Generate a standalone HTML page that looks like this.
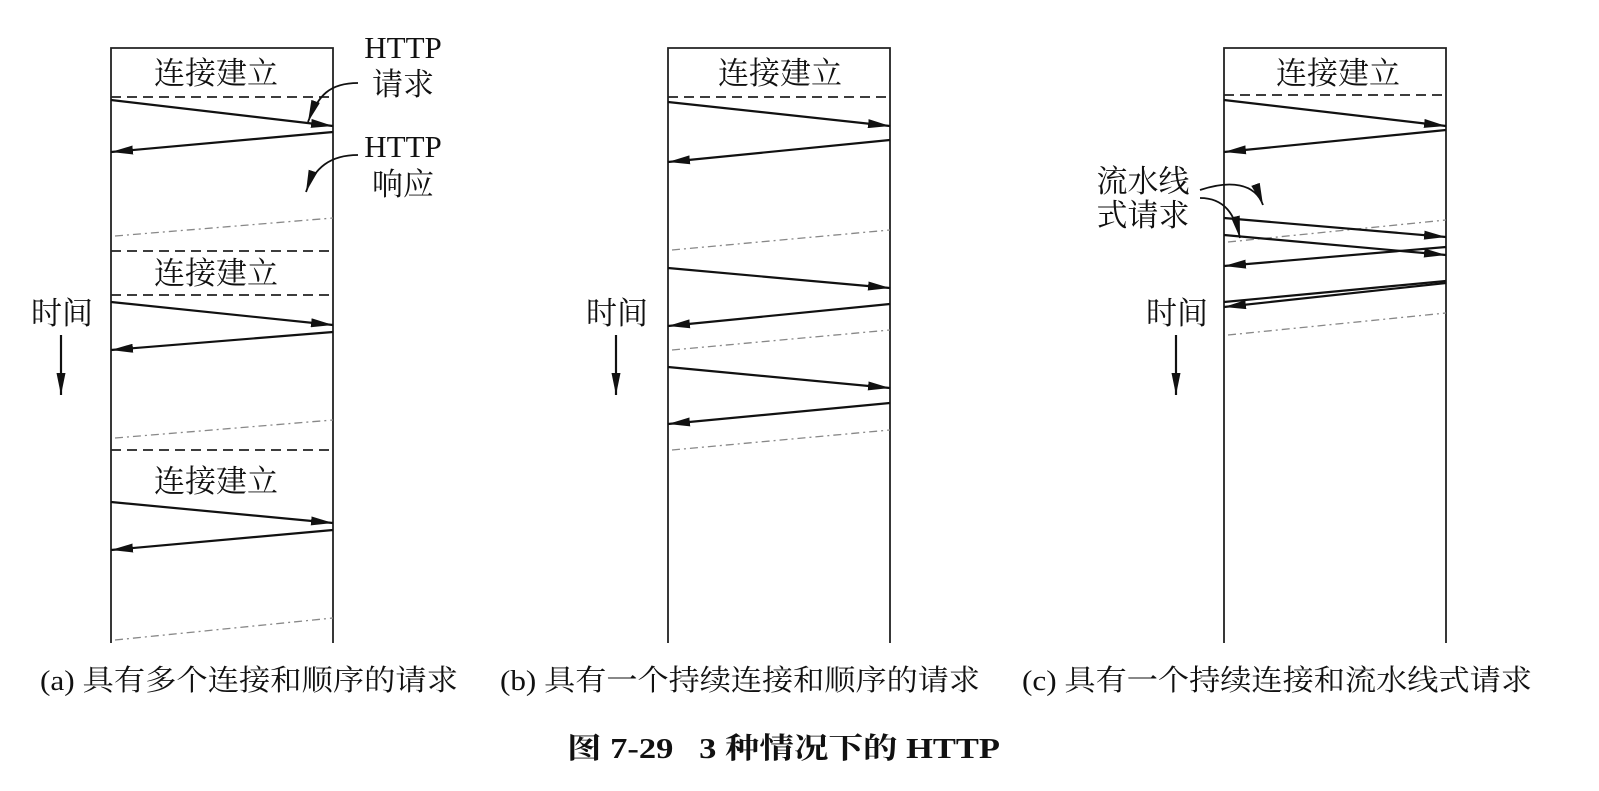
<!DOCTYPE html>
<html><head><meta charset="utf-8"><style>
html,body{margin:0;padding:0;background:#fff;}
svg{display:block;}
text{font-family:"Liberation Serif","Noto Serif CJK SC","Noto Sans CJK SC",serif;fill:#111;}
</style></head><body>
<svg width="1599" height="791" viewBox="0 0 1599 791" xmlns="http://www.w3.org/2000/svg">
<defs>
<marker id="ah" viewBox="0 0 10 10" refX="10" refY="5" markerWidth="22" markerHeight="9" markerUnits="userSpaceOnUse" orient="auto" preserveAspectRatio="none">
<path d="M0,0 L10,5 L0,10 z" fill="#111"/></marker>
</defs>
<rect width="1599" height="791" fill="#fff"/>
<g stroke="#222" stroke-width="1.8" fill="none">
<path d="M111,643 V48 H333 V643"/>
<path d="M668,643 V48 H890 V643"/>
<path d="M1224,643 V48 H1446 V643"/>
</g>
<g stroke="#222" stroke-width="1.8" stroke-dasharray="10,6" fill="none">
<line x1="111" y1="97" x2="333" y2="97"/>
<line x1="111" y1="251" x2="333" y2="251"/>
<line x1="111" y1="295" x2="333" y2="295"/>
<line x1="111" y1="450" x2="333" y2="450"/>
<line x1="668" y1="97" x2="890" y2="97"/>
<line x1="1224" y1="95" x2="1446" y2="95"/>
</g>
<g stroke="#888" stroke-width="1.3" stroke-dasharray="8,4,2,4" fill="none">
<line x1="115" y1="236" x2="333" y2="218"/>
<line x1="115" y1="438" x2="333" y2="420"/>
<line x1="115" y1="640" x2="333" y2="618"/>
<line x1="672" y1="250" x2="890" y2="230"/>
<line x1="672" y1="350" x2="890" y2="330"/>
<line x1="672" y1="450" x2="890" y2="430"/>
<line x1="1228" y1="242" x2="1446" y2="220"/>
<line x1="1228" y1="335" x2="1446" y2="313"/>
</g>
<g stroke="#111" stroke-width="2.2" fill="none" marker-end="url(#ah)">
<line x1="111" y1="100" x2="333" y2="126"/>
<line x1="333" y1="132" x2="111" y2="152"/>
<line x1="111" y1="302" x2="333" y2="325"/>
<line x1="333" y1="332" x2="111" y2="350"/>
<line x1="111" y1="502" x2="333" y2="523"/>
<line x1="333" y1="530" x2="111" y2="550"/>
<line x1="668" y1="102" x2="890" y2="126"/>
<line x1="890" y1="140" x2="668" y2="162"/>
<line x1="668" y1="268" x2="890" y2="288"/>
<line x1="890" y1="304" x2="668" y2="326"/>
<line x1="668" y1="367" x2="890" y2="388"/>
<line x1="890" y1="403" x2="668" y2="424"/>
<line x1="1224" y1="100" x2="1446" y2="126"/>
<line x1="1446" y1="130" x2="1224" y2="152"/>
<line x1="1224" y1="218" x2="1446" y2="237"/>
<line x1="1224" y1="235" x2="1446" y2="255"/>
<line x1="1446" y1="247" x2="1224" y2="266"/>
<line x1="1446" y1="283" x2="1224" y2="307"/>
<line x1="61" y1="335" x2="61" y2="395"/>
<line x1="616" y1="335" x2="616" y2="395"/>
<line x1="1176" y1="335" x2="1176" y2="395"/>
<path d="M358,83 C330,83 318,95 308,122" stroke-width="1.8"/>
<path d="M358,155 C330,155 314,168 306,192" stroke-width="1.8"/>
<path d="M1200,190 C1230,180 1255,183 1263,205" stroke-width="1.8"/>
<path d="M1200,198 C1225,198 1235,215 1240,238" stroke-width="1.8"/>
</g>
<line x1="1224" y1="302" x2="1446" y2="281" stroke="#111" stroke-width="2.2"/>
<g font-size="31" text-anchor="middle">
<text x="216" y="84">连接建立</text>
<text x="216" y="284">连接建立</text>
<text x="216" y="492">连接建立</text>
<text x="780" y="84">连接建立</text>
<text x="1338" y="84">连接建立</text>
<text x="403" y="58">HTTP</text>
<text x="403" y="95">请求</text>
<text x="403" y="157">HTTP</text>
<text x="403" y="195">响应</text>
<text x="1143" y="192">流水线</text>
<text x="1143" y="226">式请求</text>
<text x="62" y="324">时间</text>
<text x="617" y="324">时间</text>
<text x="1177" y="324">时间</text>
</g>
<g font-size="29">
<text x="40" y="690" textLength="418" lengthAdjust="spacingAndGlyphs">(a) 具有多个连接和顺序的请求</text>
<text x="500" y="690" textLength="480" lengthAdjust="spacingAndGlyphs">(b) 具有一个持续连接和顺序的请求</text>
<text x="1022" y="690" textLength="510" lengthAdjust="spacingAndGlyphs">(c) 具有一个持续连接和流水线式请求</text>
</g>
<text x="567" y="758" font-size="29" font-weight="bold" textLength="433" lengthAdjust="spacingAndGlyphs">图 7-29&#160;&#160;&#160;3 种情况下的 HTTP</text>
</svg>
</body></html>
